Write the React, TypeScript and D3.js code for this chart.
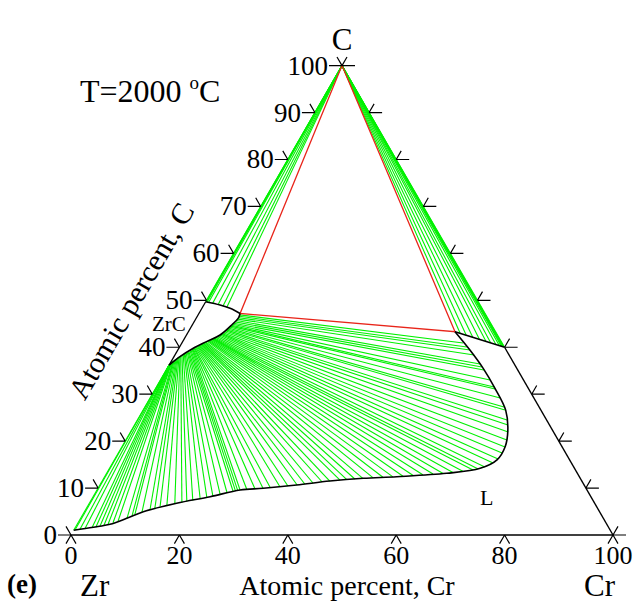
import React from 'react';
import * as d3 from 'd3';

// All compositions are [Cr, C] in atomic percent (Zr = 100 - Cr - C)
const apexC: number[] = [0, 100];
const cornerZrC: number[] = [7.6, 47.2];
const cornerLiq: number[] = [49.2, 43.3];
const liqOnCrC: number[] = [60, 40];

const zrcUpper: number[][] = [[0, 49.7], [3.0, 49.0], [5.2, 48.3], [7.6, 47.2]];
const zrcLower: number[][] = [[7.6, 47.2], [7.77, 46.2], [7.3, 44.8], [6.2, 42.6], [4.4, 41.2], [2.66, 39.8], [1.1, 38.0], [0, 36.2]];
const liquidus: number[][] = [
  [49.2, 43.3], [53.9, 39.4], [58.3, 35.5], [62.6, 31.25], [66.9, 26.6], [69.4, 22.4], [70.7, 18.8],
  [70.6, 16.0], [68.4, 14.2], [62.75, 13.14], [53.9, 12.42], [47.9, 12.08], [42.0, 11.5], [36.3, 10.65],
  [30.5, 9.95], [26.4, 9.59], [21.6, 8.16], [16.1, 6.75], [10.86, 4.96], [8.5, 3.56], [6.05, 2.28],
  [3.3, 1.64], [0, 1.0],
];

// tie lines C(graphite) - ZrC
const tieGrZrC: number[][] = [[0, 49.7], [0.05, 49.7], [0.15, 49.68], [0.3, 49.65], [0.6, 49.55], [1.45, 49.4], [2.6, 49.05], [3.65, 48.75], [4.5, 48.5]];
// tie lines C(graphite) - liquid
const tieGrLiq: number[][] = [[50.3, 43.0], [51.7, 42.5], [53.1, 42.1], [54.5, 41.7], [55.9, 41.3], [57.0, 40.9], [58.1, 40.6], [58.9, 40.3], [59.3, 40.2], [59.5, 40.15], [59.7, 40.1], [59.85, 40.05], [60, 40]];

// tie lines ZrC - liquid (pairs: ZrC end, liquid end)
const fanZrC: number[][] = [
  [7.7, 46.9], [7.75, 46.6], [7.8, 46.3], [7.75, 46.0], [7.7, 45.7], [7.6, 45.4], [7.5, 45.1], [7.4, 44.9],
  [7.3, 44.7], [7.2, 44.5], [7.1, 44.3], [7.0, 44.1], [6.9, 43.9], [6.8, 43.7], [6.7, 43.5], [6.6, 43.3],
  [6.5, 43.1], [6.4, 42.9], [6.3, 42.75], [6.2, 42.6], [6.0, 42.45], [5.8, 42.3], [5.6, 42.15],
  [5.4, 42.0], [5.3, 41.9], [5.2, 41.85], [5.1, 41.8], [5.0, 41.7], [4.85, 41.6], [4.7, 41.5], [4.6, 41.4],
  [4.45, 41.3], [4.3, 41.15], [4.2, 41.05], [4.05, 40.95], [3.9, 40.85], [3.8, 40.75], [3.7, 40.65],
  [3.6, 40.55], [3.5, 40.45], [3.4, 40.35], [3.3, 40.25], [3.2, 40.15], [3.1, 40.05], [3.0, 39.95],
  [2.9, 39.85], [2.8, 39.8], [2.7, 39.7], [2.6, 39.65], [2.5, 39.6], [2.4, 39.45], [2.3, 39.3],
  [2.2, 39.1], [2.1, 39.0], [2.0, 38.9], [1.85, 38.8], [1.7, 38.7], [1.6, 38.6], [1.45, 38.5], [1.3, 38.35],
  [1.15, 38.2], [1.05, 38.1], [0.95, 37.95], [0.85, 37.8], [0.75, 37.65], [0.65, 37.5], [0.55, 37.4],
  [0.45, 37.25], [0.35, 37.1], [0.3, 37.0], [0.2, 36.85], [0.15, 36.7], [0.1, 36.6], [0.05, 36.45],
  [0, 36.3], [0, 36.2], [0, 36.2], [0, 36.2], [0, 36.2], [0, 36.2], [0, 36.2],
];
const fanLiq: number[][] = [
  [51.9, 40.9], [53.0, 40.05], [53.9, 39.41], [55.2, 38.35], [57.25, 36.43], [57.9, 35.79], [58.6, 35.15], [60.8, 33.02],
  [62.3, 31.53], [62.7, 31.1], [64.6, 29.19], [66.25, 27.27], [66.75, 26.63], [68.2, 24.5], [68.9, 23.43], [69.7, 21.94],
  [70.3, 20.24], [70.7, 18.75], [70.8, 17.47], [70.7, 16.19], [70.2, 15.34], [69.1, 14.49], [68.1, 14.06],
  [67.25, 13.85], [65.5, 13.57], [63.8, 13.32], [62.1, 13.1], [60.3, 13.0], [58.5, 12.82], [56.8, 12.68], [55.0, 12.53],
  [53.2, 12.38], [51.4, 12.31], [49.6, 12.21], [47.8, 12.08], [46.4, 11.93], [45.0, 11.78], [43.8, 11.67],
  [42.0, 11.5], [40.7, 11.29], [39.1, 11.08], [37.7, 10.86], [36.4, 10.65], [34.8, 10.44], [33.4, 10.29],
  [31.7, 10.1], [30.45, 9.95], [29.05, 9.8], [27.6, 9.69], [26.4, 9.59], [26.0, 9.5], [25.6, 9.45],
  [25.2, 9.37], [24.25, 9.05], [23.2, 8.63], [22.0, 8.35], [21.0, 8.1], [20.0, 7.67], [18.8, 7.35], [17.8, 7.14],
  [17.0, 6.92], [15.8, 6.71], [14.5, 6.39], [13.4, 6.07], [12.6, 5.75], [11.9, 5.33], [10.65, 4.9],
  [9.6, 4.37], [9.2, 4.15], [8.55, 3.56], [7.2, 2.98], [6.45, 2.6], [5.7, 2.24], [5.05, 2.07],
  [4.4, 1.92], [3.75, 1.7], [3.1, 1.6], [1.9, 1.38], [1.05, 1.21], [0.2, 1.07], [0, 1.0],
];

const leftTicks: number[] = [0, 10, 20, 30, 40, 50, 60, 70, 80, 90, 100];
const rightTicks: number[] = [0, 10, 20, 30, 40, 50, 60, 70, 80, 90, 100];
const bottomTicks: number[] = [0, 20, 40, 60, 80, 100];

const SQ = Math.sqrt(3) / 2;
const xS = d3.scaleLinear().domain([0, 100]).range([71, 613]);
const yS = d3.scaleLinear().domain([0, 100 * SQ]).range([535, 535 - 542 * SQ]);
const P = (d: number[]): [number, number] => [xS(d[0] + d[1] / 2), yS(d[1] * SQ)];

const GREEN = '#00f000';
const RED = '#e8251a';
const FONT = '"Liberation Serif", "Times New Roman", serif';

export default function App() {
  const lin = d3.line<number[]>().x(d => P(d)[0]).y(d => P(d)[1]);
  const smooth = d3.line<number[]>().x(d => P(d)[0]).y(d => P(d)[1]).curve(d3.curveCatmullRom.alpha(0.5));

  const seg = (a: number[], b: number[], key: string, color: string, w: number) => {
    const [x1, y1] = P(a);
    const [x2, y2] = P(b);
    return <line key={key} x1={x1} y1={y1} x2={x2} y2={y2} stroke={color} strokeWidth={w} />;
  };

  const tickPath = (p: [number, number], legs: number[][]) =>
    legs.map(l => `M${p[0]},${p[1]}l${l[0]},${l[1]}`).join('');

  return (
    <svg width={636} height={602} style={{ position: 'absolute', left: 0, top: 0, background: '#fff', fontFamily: FONT }}>
      {/* tie lines */}
      <g>
        {tieGrZrC.map((d, i) => seg(apexC, d, 'gz' + i, GREEN, 1.1))}
        {tieGrLiq.map((d, i) => seg(apexC, d, 'gl' + i, GREEN, 1.1))}
        {fanZrC.map((d, i) => seg(d, fanLiq[i], 'f' + i, GREEN, 1.1))}
      </g>
      {/* three-phase triangle */}
      <path d={lin([apexC, cornerZrC, cornerLiq, apexC]) || ''} fill="none" stroke={RED} strokeWidth={1.3} />
      {/* phase boundaries */}
      <g fill="none" stroke="#000" strokeWidth={1.6}>
        <path d={smooth(zrcUpper) || ''} />
        <path d={smooth(zrcLower) || ''} />
        <path d={lin([[0, 49.7], [0, 36.2]]) || ''} strokeWidth={1.3} />
        <path d={lin([liqOnCrC, cornerLiq]) || ''} />
        <path d={smooth(liquidus) || ''} />
      </g>
      {/* frame */}
      <g fill="none" stroke="#000" strokeWidth={1.4}>
        <path d={lin([[0, 0], [100, 0]]) || ''} />
        <path d={lin([liqOnCrC, [100, 0]]) || ''} />
      </g>
      {/* ticks */}
      <g fill="none" stroke="#000" strokeWidth={1.2}>
        {leftTicks.map(v => (
          <path key={'lt' + v} d={tickPath(P([0, v]), [[-13, 0], [-5, -8.66]])} />
        ))}
        {rightTicks.map(v => (
          <path key={'rt' + v} d={tickPath(P([100 - v, v]), [[13, 0], [5, -8.66]])} />
        ))}
        {bottomTicks.map(v => (
          <path key={'bt' + v} d={tickPath(P([v, 0]), [[-5, 8.66], [5, 8.66]])} />
        ))}
      </g>
      {/* tick labels */}
      <g fontSize={27} fill="#000">
        {leftTicks.map(v => {
          const [px, py] = P([0, v]);
          return <text key={'ll' + v} x={px - 14} y={py + 9} textAnchor="end">{v}</text>;
        })}
      </g>
      <g fontSize={26} fill="#000">
        {bottomTicks.map(v => {
          const [px] = P([v, 0]);
          return <text key={'bl' + v} x={px} y={564} textAnchor="middle">{v}</text>;
        })}
      </g>
      {/* labels */}
      <text x={342} y={50} fontSize={31} textAnchor="middle">C</text>
      <text x={80} y={102} fontSize={32}>
        T=2000 <tspan fontSize={19} dy={-13}>o</tspan><tspan dy={13}>C</tspan>
      </text>
      <text transform="translate(140,306) rotate(-60)" fontSize={30} textAnchor="middle">Atomic percent, C</text>
      <text x={152} y={331} fontSize={21}>ZrC</text>
      <text x={480} y={505} fontSize={22}>L</text>
      <text x={7} y={593} fontSize={27} fontWeight="bold">(e)</text>
      <text x={80} y={596} fontSize={31}>Zr</text>
      <text x={347} y={595} fontSize={28} textAnchor="middle">Atomic percent, Cr</text>
      <text x={584} y={596} fontSize={31}>Cr</text>
    </svg>
  );
}
